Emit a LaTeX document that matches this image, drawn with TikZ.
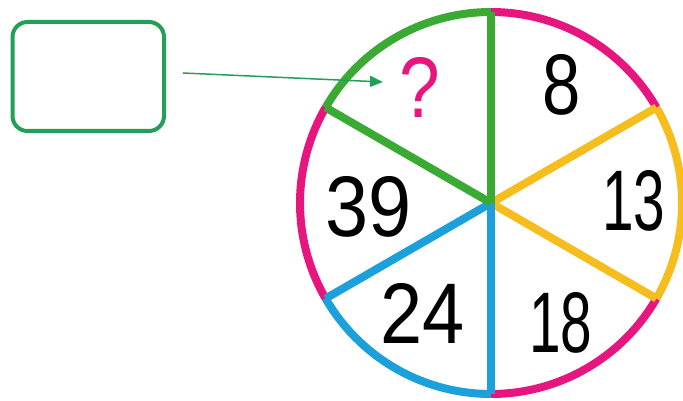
\documentclass[tikz,border=0pt]{standalone}
\usepackage{fontspec}
\setmainfont{Liberation Sans}
\usetikzlibrary{arrows.meta}
\definecolor{cgreen}{RGB}{58,170,53}
\definecolor{cpink}{RGB}{230,22,126}
\definecolor{cyellow}{RGB}{245,190,30}
\definecolor{cblue}{RGB}{27,160,220}
\definecolor{boxgreen}{RGB}{33,160,90}
\tikzset{
  rim/.style={line width=8pt},
  num/.style={inner sep=0pt, font=\fontsize{86}{86}\selectfont, text=black},
  answerbox/.style={draw=boxgreen, line width=4pt, rounded corners=15pt, minimum width=151.5pt, minimum height=109pt, inner sep=0pt},
  pointer/.style={draw=boxgreen, line width=1.5pt, -{Triangle[length=13pt,width=11pt]}}
}
\begin{document}
\begin{tikzpicture}[x=1pt,y=1pt]
\useasboundingbox (0,0) rectangle (683,401);
\coordinate (c) at (491,198);
% rim arcs
\draw[rim,cgreen]  ([shift={(90:191)}]c)  arc[start angle=90,  end angle=150, radius=191];
\draw[rim,cpink]   ([shift={(150:191)}]c) arc[start angle=150, end angle=210, radius=191];
\draw[rim,cblue]   ([shift={(210:191)}]c) arc[start angle=210, end angle=270, radius=191];
\draw[rim,cpink]   ([shift={(270:191)}]c) arc[start angle=270, end angle=330, radius=191];
\draw[rim,cyellow] ([shift={(330:191)}]c) arc[start angle=330, end angle=390, radius=191];
\draw[rim,cpink]   ([shift={(30:191)}]c)  arc[start angle=30,  end angle=90,  radius=191];
% spokes
\coordinate (p90)  at ([shift={(90:191)}]c);
\coordinate (p150) at ([shift={(150:191)}]c);
\coordinate (p210) at ([shift={(210:191)}]c);
\coordinate (p270) at ([shift={(270:191)}]c);
\coordinate (p330) at ([shift={(330:191)}]c);
\coordinate (p30)  at ([shift={(30:191)}]c);
\draw[rim,cyellow] (c) -- (p30);
\draw[rim,cyellow] (c) -- (p330);
\draw[rim,cblue] (c) -- (p210);
\draw[rim,cblue] (c) -- (p270);
\draw[rim,cgreen] (c) -- (p150);
\draw[rim,cgreen] (c) -- (p90);
% numbers
\node[num, text=cpink, xscale=0.85] (q) at (420,314) {?};
\node[num, xscale=0.8] (n8)  at (562,316) {8};
\node[num, xscale=0.66] (n13) at (634,200) {13};
\node[num, xscale=0.66] (n18) at (561,78)  {18};
\node[num, xscale=0.88] (n24) at (423,88)  {24};
\node[num, xscale=0.9] (n39) at (369,194) {39};
% answer box and arrow
\node[answerbox] (box) at (88.25,324.5) {};
\coordinate (a1) at (183,328);
\coordinate (a2) at (383,319);
\draw[pointer] (a1) -- (a2);
\end{tikzpicture}
\end{document}
